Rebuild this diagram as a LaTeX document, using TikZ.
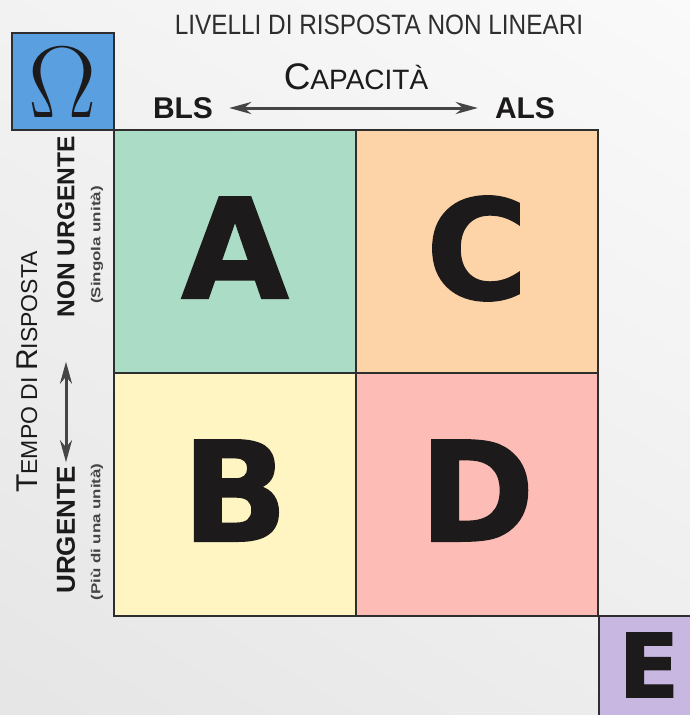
\documentclass[tikz,border=0pt]{standalone}
\usepackage{fontspec}
\setmainfont{Liberation Sans}
\newfontfamily\titlefont[FakeStretch=0.87]{Liberation Sans}
\newfontfamily\capsfont{Liberation Sans}
\newfontfamily\notefont[FakeStretch=1.3]{Liberation Sans}
\newfontfamily\blockfont[BoldFeatures={FakeBold=1.2}]{DejaVu Sans}
\newfontfamily\omegafont{Latin Modern Roman}
\usepackage{tikz}
\usetikzlibrary{arrows.meta, positioning, shadings}
\definecolor{omegablue}{HTML}{5A9FDF}
\definecolor{quadgreen}{HTML}{ABDCC6}
\definecolor{quadpeach}{HTML}{FDD3A8}
\definecolor{quadyellow}{HTML}{FEF5C3}
\definecolor{quadpink}{HTML}{FDBDB6}
\definecolor{quadpurple}{HTML}{C8B7E0}
\definecolor{inkdark}{HTML}{2E2E2E}
\definecolor{inkgray}{HTML}{454545}
\definecolor{letterblack}{HTML}{1C1A1A}

\begin{document}
\begin{tikzpicture}[
        x=1pt, y=-1pt,
        every node/.style={align=center, anchor=center, inner sep=0pt},
        quad/.style={rectangle, draw=inkdark, line width=1.5pt,
                     minimum width=242pt, minimum height=243pt, text depth=8pt,
                     text=letterblack, font=\blockfont\bfseries\fontsize{139}{139}\selectfont},
        cornerbox/.style={rectangle, draw=inkdark, line width=1.5pt, text=letterblack},
        toptitle/.style={text=inkdark, font=\titlefont\fontsize{28}{28}\selectfont},
        axislbl/.style={text=letterblack, font=\bfseries\fontsize{30}{30}\selectfont},
        sidelbl/.style={text=letterblack, rotate=90, font=\bfseries\fontsize{26}{26}\selectfont},
        notelbl/.style={text=inkgray, rotate=90, font=\notefont\bfseries\fontsize{13}{13}\selectfont},
        biarrow/.style={{Stealth[length=22pt, width=12pt, inset=7pt]}-{Stealth[length=22pt, width=12pt, inset=7pt]},
                        draw=inkgray, line width=3pt}
    ]
        \useasboundingbox (0,0) rectangle (690,715);
        \clip (0,0) rectangle (690,715);
        \shade[upper left=black!5, upper right=black!2, lower left=black!10, lower right=black!7]
            (0,0) rectangle (690,715);

        \node[cornerbox, fill=omegablue, minimum width=102pt, minimum height=97pt,
              font=\omegafont\fontsize{102}{102}\selectfont] (omega) at (63,81.5) {Ω};

        \node[toptitle] (title) at (379,25) {LIVELLI DI RISPOSTA NON LINEARI};
        \node[text=letterblack, font=\capsfont] (capac) at (356,77)
            {{\fontsize{37}{37}\selectfont C}{\fontsize{28}{28}\selectfont APACITÀ}};
        \node[axislbl] (bls) at (183,108) {BLS};
        \node[axislbl] (als) at (525,108) {ALS};
        \draw[biarrow, shorten <=16pt, shorten >=17pt] (bls) -- (als);

        \node[quad, fill=quadgreen]  (quadA) at (235,251.5) {A};
        \node[quad, fill=quadpeach]  (quadC) at (477,251.5) {C};
        \node[quad, fill=quadyellow] (quadB) at (235,494.5) {B};
        \node[quad, fill=quadpink]   (quadD) at (477,494.5) {D};

        \node[cornerbox, fill=quadpurple, anchor=north west, minimum width=110pt, minimum height=104pt] (quadE) at (598,615) {};
        \node[text=letterblack, font=\blockfont\bfseries\fontsize{89}{89}\selectfont] (letE) at (649,665) {E};

        \node[text=letterblack, rotate=90, font=\capsfont] (tempo) at (27,372)
            {{\fontsize{30}{30}\selectfont T}{\fontsize{23}{23}\selectfont EMPO DI }{\fontsize{30}{30}\selectfont R}{\fontsize{23}{23}\selectfont ISPOSTA}};
        \node[sidelbl] (urg) at (66,530) {URGENTE};
        \node[sidelbl, font=\bfseries\fontsize{24.5}{24.5}\selectfont] (nonurg) at (66,227) {NON URGENTE};
        \draw[biarrow, shorten <=4pt, shorten >=44pt] (urg) -- (nonurg);
        \node[notelbl] (singola) at (97,245) {(Singola unità)};
        \node[notelbl] (piuuna) at (97,532) {(Più di una unità)};
    \end{tikzpicture}
\end{document}
